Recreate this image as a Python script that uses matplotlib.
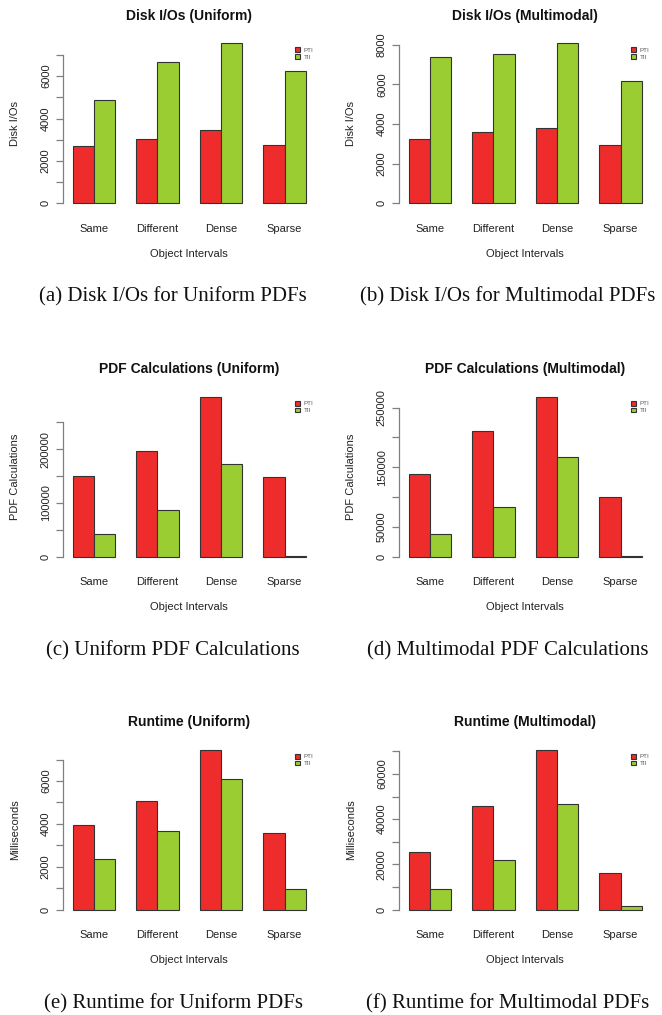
import numpy as np
import matplotlib
matplotlib.use('Agg')
import matplotlib.pyplot as plt

plt.rcParams['font.family'] = ['Liberation Sans', 'DejaVu Sans']

categories = ['Same', 'Different', 'Dense', 'Sparse']
series_names = ['PTI', 'TII']

disk_uni_pti = [2700, 3050, 3470, 2750]
disk_uni_tii = [4880, 6690, 7540, 6230]
disk_mm_pti = [3250, 3620, 3810, 2950]
disk_mm_tii = [7410, 7530, 8070, 6180]
pdf_uni_pti = [149500, 196700, 297100, 148300]
pdf_uni_tii = [41600, 86200, 171800, 500]
pdf_mm_pti = [138700, 210300, 267900, 99600]
pdf_mm_tii = [38600, 83300, 167200, 500]
rt_uni_pti = [3950, 5085, 7450, 3590]
rt_uni_tii = [2350, 3670, 6080, 980]
rt_mm_pti = [25440, 45900, 70600, 16300]
rt_mm_tii = [9120, 22060, 46500, 1470]

titles = ['Disk I/Os (Uniform)', 'Disk I/Os (Multimodal)',
          'PDF Calculations (Uniform)', 'PDF Calculations (Multimodal)',
          'Runtime (Uniform)', 'Runtime (Multimodal)']
ylabels = ['Disk I/Os', 'Disk I/Os', 'PDF Calculations', 'PDF Calculations',
           'Milliseconds', 'Milliseconds']
captions = ['(a) Disk I/Os for Uniform PDFs', '(b) Disk I/Os for Multimodal PDFs',
            '(c) Uniform PDF Calculations', '(d) Multimodal PDF Calculations',
            '(e) Runtime for Uniform PDFs', '(f) Runtime for Multimodal PDFs']
# y ticks and which of them get a label (R drops overlapping ones)
yticks = [list(range(0, 8000, 1000)), list(range(0, 10000, 2000)),
          list(range(0, 300000, 50000)), list(range(0, 300000, 50000)),
          list(range(0, 8000, 1000)), list(range(0, 80000, 10000))]
ylabeled = [[0, 2000, 4000, 6000], [0, 2000, 4000, 6000, 8000],
            [0, 100000, 200000], [0, 50000, 150000, 250000],
            [0, 2000, 4000, 6000], [0, 20000, 40000, 60000]]
data = [(disk_uni_pti, disk_uni_tii), (disk_mm_pti, disk_mm_tii),
        (pdf_uni_pti, pdf_uni_tii), (pdf_mm_pti, pdf_mm_tii),
        (rt_uni_pti, rt_uni_tii), (rt_mm_pti, rt_mm_tii)]

red = '#EE2C2C'
green = '#9ACD32'
axcol = '#808080'

W, H = 662, 1015
fig = plt.figure(figsize=(W / 100, H / 100), dpi=100)

col_lr = [(63.4, 315.0), (399.4, 651.0)]
ylab_x = [15, 351]
row_off = [0, 353.4, 706.4]
cap_x = [173, 508]

for k in range(6):
    r, c = divmod(k, 2)
    l, rr = col_lr[c]
    top = 37.1 + row_off[r]
    bot = 209.7 + row_off[r]
    ax = fig.add_axes([l / W, 1 - bot / H, (rr - l) / W, (bot - top) / H])
    pti, tii = data[k]
    x = np.arange(len(categories)) * 3 + 1
    ax.bar(x, pti, width=1, align='edge', color=red, edgecolor='#333333', linewidth=0.8, label='PTI')
    ax.bar(x + 1, tii, width=1, align='edge', color=green, edgecolor='#333333', linewidth=0.8, label='TII')
    m = max(max(pti), max(tii))
    ax.set_ylim(-0.04 * m, 1.04 * m)
    ax.set_xlim(1 - 0.44, 12 + 0.44)

    for s in ['top', 'right', 'bottom']:
        ax.spines[s].set_visible(False)
    ax.spines['left'].set_color(axcol)
    ax.spines['left'].set_linewidth(0.9)
    ax.spines['left'].set_bounds(yticks[k][0], yticks[k][-1])
    ax.set_yticks(yticks[k])
    ax.set_yticklabels([str(v) if v in ylabeled[k] else '' for v in yticks[k]],
                       rotation=90, va='center', fontsize=8, color='#222222')
    ax.tick_params(axis='y', length=5, width=0.9, color=axcol, pad=4)

    ax.set_xticks(x + 1)
    ax.set_xticklabels(categories, fontsize=8, color='#222222')
    ax.tick_params(axis='x', length=0, pad=10)

    ax.set_xlabel('Object Intervals', fontsize=8, color='#222222', va='center')
    ax.xaxis.set_label_coords(0.5, -(254 - 209.7) / 172.6)
    ax.set_ylabel(ylabels[k], fontsize=8, color='#222222', va='center')
    ax.yaxis.set_label_coords(-(l - ylab_x[c]) / (rr - l), 0.5)

    ax.text(0.5, 1 + (37.1 - 16) / 172.6, titles[k], transform=ax.transAxes,
            ha='center', va='center', fontsize=10, fontweight='bold', color='#111111')

    leg = ax.legend(loc='upper right', bbox_to_anchor=(0.995, 0.94), frameon=False,
                    fontsize=4.5, handlelength=0.8, handleheight=0.8, handletextpad=0.6,
                    borderpad=0, borderaxespad=0, labelspacing=0.2)
    for t in leg.get_texts():
        t.set_color('#555555')

    fig.text(cap_x[c] / W, 1 - (297 + row_off[r]) / H, captions[k], ha='center', va='center',
             fontsize=15, family='Liberation Serif', color='#111111')

fig.savefig('out.png', dpi=100)
